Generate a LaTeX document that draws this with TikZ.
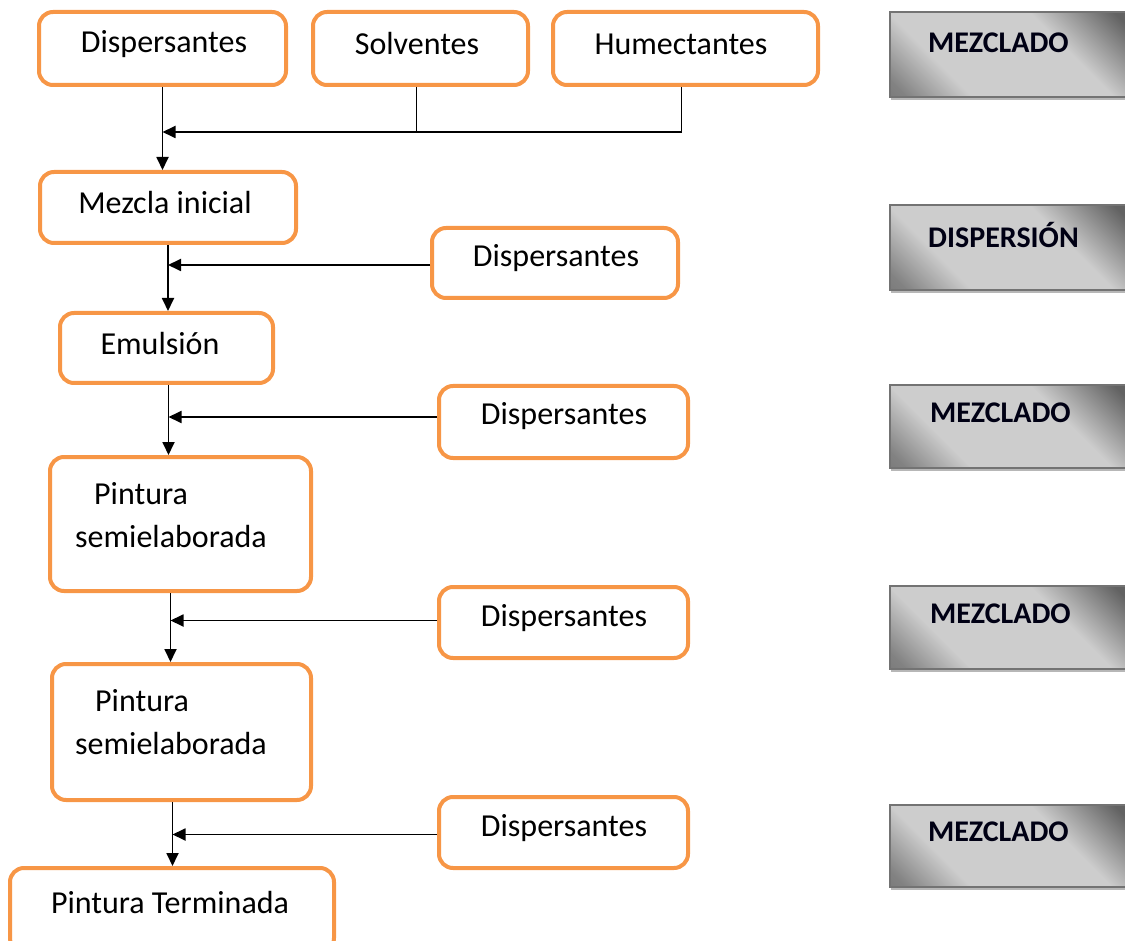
\documentclass[tikz,border=0pt]{standalone}
\usepackage{fontspec}
\setmainfont{Carlito}
\usetikzlibrary{arrows.meta,shadows}
\definecolor{orng}{HTML}{F79646}
\definecolor{gdark}{HTML}{626262}
\definecolor{glight}{HTML}{CDCDCD}
\pgfdeclarehorizontalshading{grayband}{100bp}{color(0bp)=(gdark); color(18bp)=(gdark!70!glight); color(32bp)=(glight); color(62bp)=(glight); color(80bp)=(gdark); color(100bp)=(gdark)}
\begin{document}
\begin{tikzpicture}[x=1pt,y=-1pt,
  box/.style={draw=orng, line width=4pt, rounded corners=14pt, fill=white, inner sep=0pt},
  lbl/.style={font=\fontsize{32}{38}\selectfont, text=black, inner sep=0pt, anchor=center},
  glbl/.style={font=\bfseries\fontsize{30}{36}\selectfont, text=black!92!blue, inner sep=0pt, anchor=west},
  graybox/.style={draw=black!55, line width=1.5pt, shading=grayband, shading angle=45,
    drop shadow={shadow xshift=1pt, shadow yshift=-3pt, opacity=.4, fill=black!70},
    minimum width=250pt, inner sep=0pt},
  arr/.style={-{Triangle[length=13pt,width=12pt]}, line width=1.8pt, black},
  ln/.style={line width=1.8pt, black}]
\useasboundingbox (0,0) rectangle (1125,941);
\begin{scope}
\clip (0,0) rectangle (1125,941);
% gray step boxes
\node[graybox, minimum height=85pt] (g1) at (1015,54.5) {};
\node[graybox, minimum height=85pt] (g2) at (1015,247.5) {};
\node[graybox, minimum height=83pt] (g3) at (1015,426.5) {};
\node[graybox, minimum height=83pt] (g4) at (1015,627.5) {};
\node[graybox, minimum height=82pt] (g5) at (1015,846) {};
% last orange box (cut at the bottom)
\node[box, minimum width=324pt, minimum height=84pt] (pt) at (172,910) {};
\end{scope}
\node[glbl] (g1t) at (928,43) {MEZCLADO};
\node[glbl] (g2t) at (928,235) {DISPERSIÓN};
\node[glbl] (g3t) at (930,413) {MEZCLADO};
\node[glbl] (g4t) at (930,614) {MEZCLADO};
\node[glbl] (g5t) at (928,832) {MEZCLADO};
% orange boxes
\node[box, minimum width=247pt, minimum height=73pt] (dispA) at (162.5,48.5) {};
\node[box, minimum width=215pt, minimum height=73pt] (solv) at (420.5,48.5) {};
\node[box, minimum width=265pt, minimum height=73pt] (hum) at (685.5,48.5) {};
\node[box, minimum width=256pt, minimum height=71pt] (mezcla) at (168,207.5) {};
\node[box, minimum width=246pt, minimum height=70pt] (dispB) at (555,263) {};
\node[box, minimum width=213pt, minimum height=70pt] (emul) at (166.5,348) {};
\node[box, minimum width=249pt, minimum height=72pt] (dispC) at (563.5,422) {};
\node[box, minimum width=261pt, minimum height=134pt] (ps1) at (180.5,524) {};
\node[box, minimum width=249pt, minimum height=71pt] (dispD) at (563.5,622.5) {};
\node[box, minimum width=259pt, minimum height=136pt] (ps2) at (181.5,732) {};
\node[box, minimum width=249pt, minimum height=71pt] (dispE) at (563.5,832.5) {};
% texts
\node[lbl] (dispAt) at (164,44) {Dispersantes};
\node[lbl] (solvt) at (417,44) {Solventes};
\node[lbl] (humt) at (681,44) {Humectantes};
\node[lbl] (mezclat) at (165,203) {Mezcla inicial};
\node[lbl] (dispBt) at (556,258) {Dispersantes};
\node[lbl] (emult) at (160,344) {Emulsión};
\node[lbl] (dispCt) at (564,416) {Dispersantes};
\node[lbl, anchor=west] (ps1a) at (94,494) {Pintura};
\node[lbl, anchor=west] (ps1b) at (75,537) {semielaborada};
\node[lbl] (dispDt) at (564,618) {Dispersantes};
\node[lbl, anchor=west] (ps2a) at (95,701) {Pintura};
\node[lbl, anchor=west] (ps2b) at (75,744) {semielaborada};
\node[lbl] (dispEt) at (564,828) {Dispersantes};
\node[lbl] (ptt) at (170,903) {Pintura Terminada};
% connectors
\coordinate (mergeY) at (0,132);
\draw[arr] (dispA.south) -- (dispA.south |- mezcla.north);
\draw[ln] ([xshift=-4pt]solv.south) -- ([xshift=-4pt]solv.south |- mergeY);
\draw[arr] ([xshift=-4pt]hum.south) |- (dispA.south |- mergeY);
\draw[arr] (mezcla.south) -- (mezcla.south |- emul.north);
\draw[arr] ([yshift=-2pt]dispB.west) -- ([yshift=-2pt]dispB.west -| mezcla.south);
\draw[arr] ([xshift=2pt]emul.south) -- ([xshift=2pt]emul.south |- ps1.north);
\draw[arr] ([yshift=5pt]dispC.west) -- ([yshift=5pt,xshift=2pt]dispC.west -| emul.south);
\draw[arr] ([xshift=-10pt]ps1.south) -- ([xshift=-10pt]ps1.south |- ps2.north);
\draw[arr] ([yshift=2pt]dispD.west) -- ([yshift=2pt,xshift=-10pt]dispD.west -| ps1.south);
\draw[arr] ([xshift=-9pt]ps2.south) -- ([xshift=-9pt]ps2.south |- pt.north);
\draw[arr] ([yshift=-2pt]dispE.west) -- ([yshift=-2pt,xshift=-9pt]dispE.west -| ps2.south);
\end{tikzpicture}
\end{document}
